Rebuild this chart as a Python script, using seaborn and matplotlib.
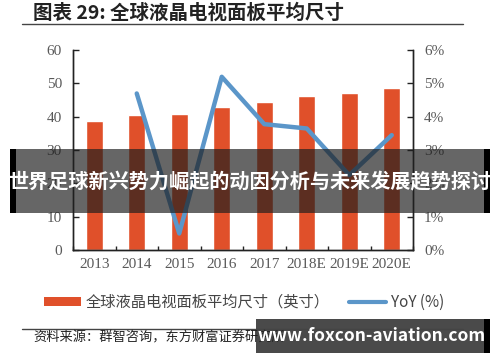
import pandas as pd
import numpy as np
import matplotlib.pyplot as plt
import seaborn as sns
from matplotlib.lines import Line2D
from matplotlib.patches import Patch, Rectangle

# 数据
years = ["2013", "2014", "2015", "2016", "2017", "2018E", "2019E", "2020E"]
avg_size = [38.7, 40.4, 40.8, 42.9, 44.4, 46.1, 47.2, 48.6]
yoy_years = ["2014", "2015", "2016", "2017", "2018E", "2019E", "2020E"]
yoy = [4.7, 0.5, 5.2, 3.78, 3.65, 2.25, 3.45]

BAR_COLOR = "#E0502A"
LINE_COLOR = "#5B96C9"
TICK_COLOR = "#595959"

sns.set_theme(style="white")
plt.rcParams["font.family"] = ["Noto Sans CJK SC", "DejaVu Sans"]

df_bar = pd.DataFrame({"year": years, "size": avg_size})
df_yoy = pd.DataFrame({"year": yoy_years, "yoy": yoy})

fig = plt.figure(figsize=(5.0, 3.62), dpi=100)
ax = fig.add_axes([0.146, 0.309, 0.68, 0.5525])

sns.barplot(data=df_bar, x="year", y="size", color=BAR_COLOR, saturation=1,
            width=0.4, ax=ax)
ax.set_xlim(-0.47, 7.47)
ax.set_ylim(0, 60)
ax.set_yticks(range(0, 61, 10))
ax.set_xlabel("")
ax.set_ylabel("")

ax2 = ax.twinx()
sns.lineplot(data=df_yoy, x="year", y="yoy", color=LINE_COLOR, linewidth=3.2,
             ax=ax2, legend=False)
ax2.set_ylim(0, 6)
ax2.set_yticks(range(0, 7))
ax2.set_yticklabels([f"{v}%" for v in range(0, 7)])
ax2.set_ylabel("")
ax2.set_xlim(-0.47, 7.47)

# 坐标轴样式
serif = ["Liberation Serif", "DejaVu Serif"]
for a in (ax, ax2):
    a.spines["top"].set_visible(False)
    for s in a.spines.values():
        s.set_color("#222222")
        s.set_linewidth(1.0)
    a.tick_params(axis="y", direction="in", length=4, width=1, color="#222222",
                  labelcolor=TICK_COLOR, labelsize=11, pad=8)
    for lbl in a.get_yticklabels():
        lbl.set_family(serif)
ax.tick_params(axis="y", left=True)
ax2.tick_params(axis="y", right=True)
ax.set_xticks(np.arange(-0.5, 8, 1), minor=True)
ax.tick_params(axis="x", which="major", length=0, labelcolor=TICK_COLOR,
               labelsize=11, pad=6)
ax.tick_params(axis="x", which="minor", direction="in", length=3, width=1,
               color="#222222", bottom=True)
for lbl in ax.get_xticklabels():
    lbl.set_family(serif)

# 标题
fig.text(0.066, 0.963, "图表 29: 全球液晶电视面板平均尺寸", fontsize=14,
         fontweight="bold", color="#222222", va="center", ha="left")
fig.add_artist(Line2D([0.044, 0.926], [0.934, 0.934], color="#444444",
                      linewidth=1.0, transform=fig.transFigure))

# 图例
handles = [Patch(facecolor=BAR_COLOR, edgecolor="none"),
           Line2D([0], [0], color=LINE_COLOR, linewidth=3)]
labels = ["全球液晶电视面板平均尺寸（英寸）", "YoY (%)"]
fig.legend(handles, labels, loc="center", bbox_to_anchor=(0.488, 0.165), ncol=2,
           frameon=False, fontsize=11, handlelength=2.4, handleheight=0.5,
           columnspacing=1.3, handletextpad=0.3, labelcolor="#444444")

# 资料来源
fig.add_artist(Line2D([0.044, 0.926], [0.091, 0.091], color="#444444",
                      linewidth=1.0, transform=fig.transFigure))
fig.text(0.066, 0.066, "资料来源：群智咨询，东方财富证券研究所", fontsize=9.5,
         color="#222222", va="center", ha="left")

# 水印横幅
fig.add_artist(Rectangle((0.02, 0.4124), 0.96, 0.176, facecolor="#1e1e1e",
                         alpha=0.68, edgecolor="none", transform=fig.transFigure))
fig.add_artist(Rectangle((0.02, 0.4124), 0.012, 0.176, facecolor="black",
                         edgecolor="none", transform=fig.transFigure))
fig.add_artist(Rectangle((0.968, 0.4124), 0.012, 0.176, facecolor="black",
                         edgecolor="none", transform=fig.transFigure))
fig.text(0.5, 0.498, "世界足球新兴势力崛起的动因分析与未来发展趋势探讨", fontsize=14.5,
         fontweight="bold", color="white", ha="center", va="center")

fig.add_artist(Rectangle((0.512, 0.025), 0.456, 0.094, facecolor="#4a4a4a",
                         edgecolor="none", transform=fig.transFigure))
fig.add_artist(Rectangle((0.968, 0.025), 0.012, 0.094, facecolor="black",
                         edgecolor="none", transform=fig.transFigure))
fig.text(0.743, 0.072, "www.foxcon-aviation.com", fontsize=12.5,
         fontweight="bold", color="white", ha="center", va="center")

fig.savefig("out.png", dpi=100)
